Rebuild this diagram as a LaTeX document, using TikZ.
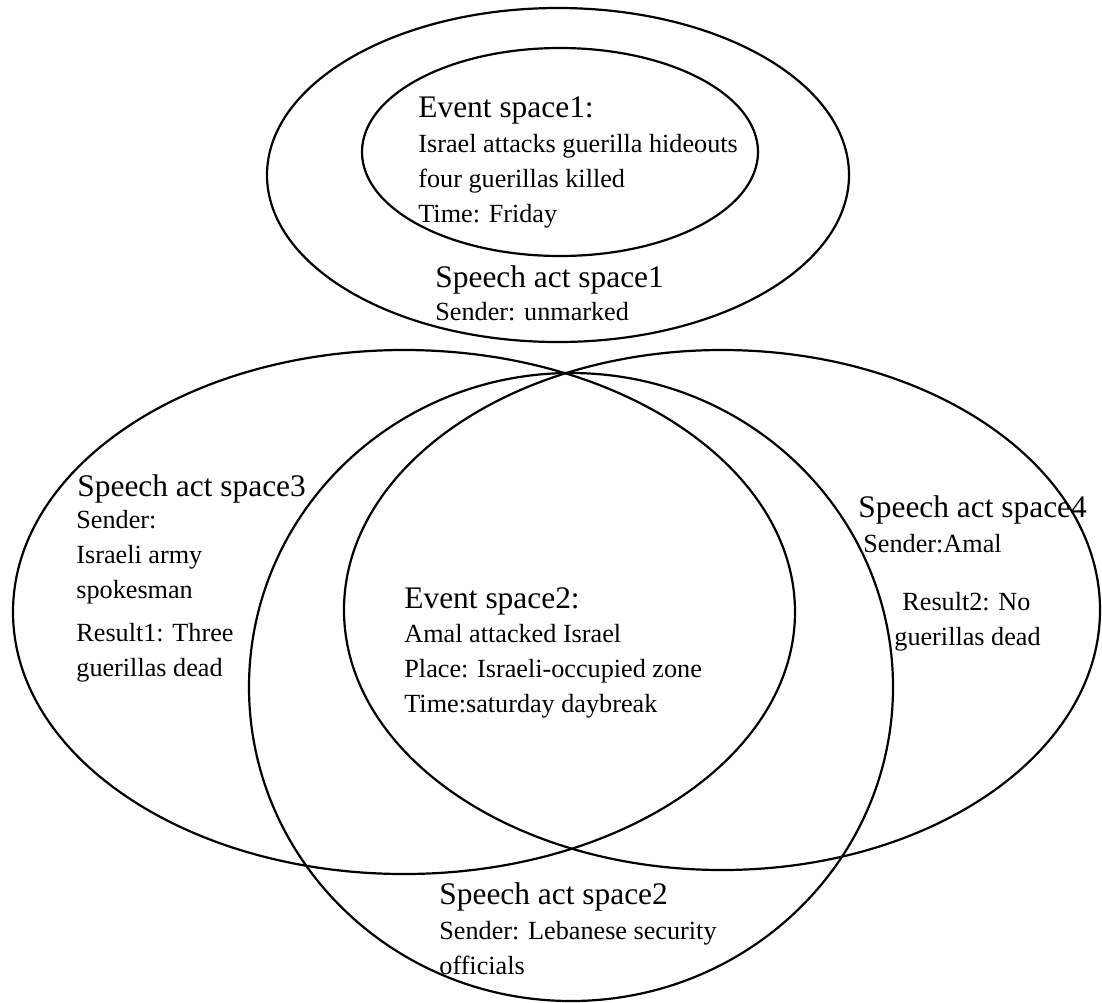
\documentclass[tikz,border=0pt]{standalone}
\usepackage{fontspec}
\setmainfont{Liberation Serif}
\usetikzlibrary{shapes.geometric}
\begin{document}
\begin{tikzpicture}[x=0.5pt,y=-0.5pt,
  space/.style={ellipse, draw, line width=1.1pt, inner sep=0pt, outer sep=0pt},
  head/.style={anchor=base west, inner sep=0pt, font=\fontsize{15.7}{18}\selectfont},
  body/.style={anchor=base west, inner sep=0pt, align=left, font=\fontsize{13.1}{17.4}\selectfont}]
\useasboundingbox (0,0) rectangle (1102,1002);
% spaces
\node[space, minimum width=291pt, minimum height=167pt] (sas1) at (558,175) {};
\node[space, minimum width=198pt, minimum height=104pt] (es1) at (560,152) {};
\node[space, minimum width=391pt, minimum height=262pt] (sas3) at (404,612) {};
\node[space, minimum width=378pt, minimum height=260pt] (sas4) at (722,610) {};
\node[space, minimum width=322pt, minimum height=314pt] (sas2) at (571,687) {};
% texts (multi-line nodes are placed at the baseline of their last line)
\node[head] (es1h) at (418,117) {Event space1:};
\node[body] (es1b) at (418,222) {Israel attacks guerilla hideouts\\four guerillas killed\\Time: Friday};
\node[head] (sas1h) at (435,287) {Speech act space1};
\node[body] (sas1b) at (435,320) {Sender: unmarked};
\node[head] (sas3h) at (77,496) {Speech act space3};
\node[body] (sas3b) at (76,676) {Sender:\\Israeli army\\spokesman\\[4pt]Result1: Three\\guerillas dead};
\node[head] (sas4h) at (858,517) {Speech act space4};
\node[body] (sas4s) at (863,552) {Sender:Amal};
\node[body] (sas4r) at (902,610) {Result2: No};
\node[body] (sas4g) at (894,645) {guerillas dead};
\node[head] (es2h) at (404,608) {Event space2:};
\node[body] (es2b) at (404,712) {Amal attacked Israel\\Place: Israeli-occupied zone\\Time:saturday daybreak};
\node[head] (sas2h) at (439,904) {Speech act space2};
\node[body] (sas2b) at (439,974) {Sender: Lebanese security\\officials};
\end{tikzpicture}
\end{document}
